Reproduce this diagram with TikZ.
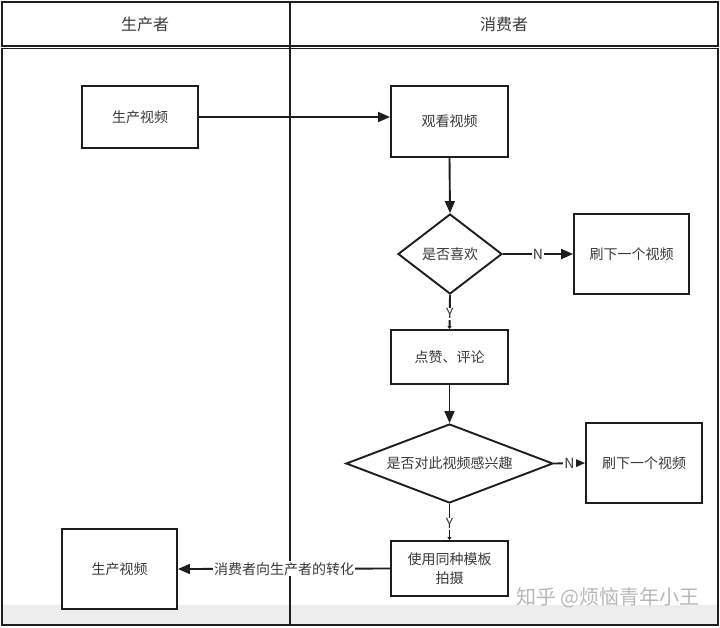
\documentclass[tikz,border=0pt]{standalone}
\usepackage{fontspec}
\setmainfont{Noto Sans CJK SC}
\usetikzlibrary{shapes.geometric,arrows.meta}
\definecolor{txt}{HTML}{3A3A3A}
\definecolor{ln}{HTML}{1E1E1E}
\definecolor{strip}{HTML}{EDEDED}
\tikzset{
  box/.style={draw=ln,line width=1.9pt,fill=white,rectangle,inner sep=2pt,align=center,text=txt,font=\fontsize{14}{19}\selectfont},
  dia/.style={draw=ln,line width=1.9pt,fill=white,diamond,inner sep=0pt,align=center,text=txt,font=\fontsize{14}{17}\selectfont},
  arr/.style={draw=ln,line width=1.9pt,-{Triangle[length=12pt,width=10pt]}},
  sarr/.style={draw=ln,line width=1.9pt,-{Triangle[length=3pt,width=4pt]}},
  lab/.style={fill=white,text=txt,inner sep=1pt,font=\fontsize{14}{16}\selectfont},
  head/.style={text=txt,font=\fontsize{16}{18}\selectfont},
  frame/.style={draw=ln,line width=1.7pt}
}
\begin{document}
\begin{tikzpicture}[x=1pt,y=-1pt]
\useasboundingbox (0,0) rectangle (720,627);
\fill[white] (0,0) rectangle (720,627);
% bottom strip
\fill[strip] (2,605) rectangle (718,624);
% frames
\draw[frame] (2,2) rectangle (718,46);
\draw[frame] (2,48.5) rectangle (718,625);
\draw[frame] (290,2) -- (290,625);
\node[head] (h1) at (145,24) {生产者};
\node[head] (h2) at (504,24) {消费者};
% nodes
\node[box,minimum width=116pt,minimum height=62pt] (p1) at (140,117) {生产视频};
\node[box,minimum width=117pt,minimum height=71pt] (w) at (449.5,121.5) {观看视频};
\node[dia,minimum width=104pt,minimum height=80pt,aspect=1.3] (d1) at (450,254) {是否喜欢};
\node[box,minimum width=115pt,minimum height=80pt] (r1) at (631.5,254) {刷下一个视频};
\node[box,minimum width=117pt,minimum height=54pt] (like) at (449.5,357) {点赞、评论};
\node[dia,minimum width=207pt,minimum height=79pt,aspect=2.6] (d2) at (449.5,463.5) {是否对此视频感兴趣};
\node[box,minimum width=116pt,minimum height=80pt] (r2) at (644,463) {刷下一个视频};
\node[box,minimum width=117pt,minimum height=55pt] (use) at (449.5,568.5) {使用同种模板\\拍摄};
\node[box,minimum width=115pt,minimum height=80pt] (p2) at (119.5,569) {生产视频};
% edges
\draw[arr] (p1.east) -- (p1.east -| w.west);
\draw[arr] (w.south) -- (d1.north);
\draw[arr] (d1.east) -- node[lab,pos=0.5] (n1) {N} (r1.west);
\draw[sarr] (d1.south) -- node[lab,pos=0.55] (y1) {Y} (like.north);
\draw[arr] (like.south) -- (d2.north);
\draw[arr] (d2.east) -- node[lab,pos=0.5] (n2) {N} (r2.west);
\draw[sarr] (d2.south) -- node[lab,pos=0.55] (y2) {Y} (use.north);
\draw[arr] (use.west) -- node[lab,pos=0.5] (cv) {消费者向生产者的转化} (p2.east);
% watermark
\node[text=black!28,font=\fontsize{20}{22}\selectfont,anchor=east] (wm) at (703,598) {知乎 @烦恼青年小王};
\end{tikzpicture}
\end{document}
